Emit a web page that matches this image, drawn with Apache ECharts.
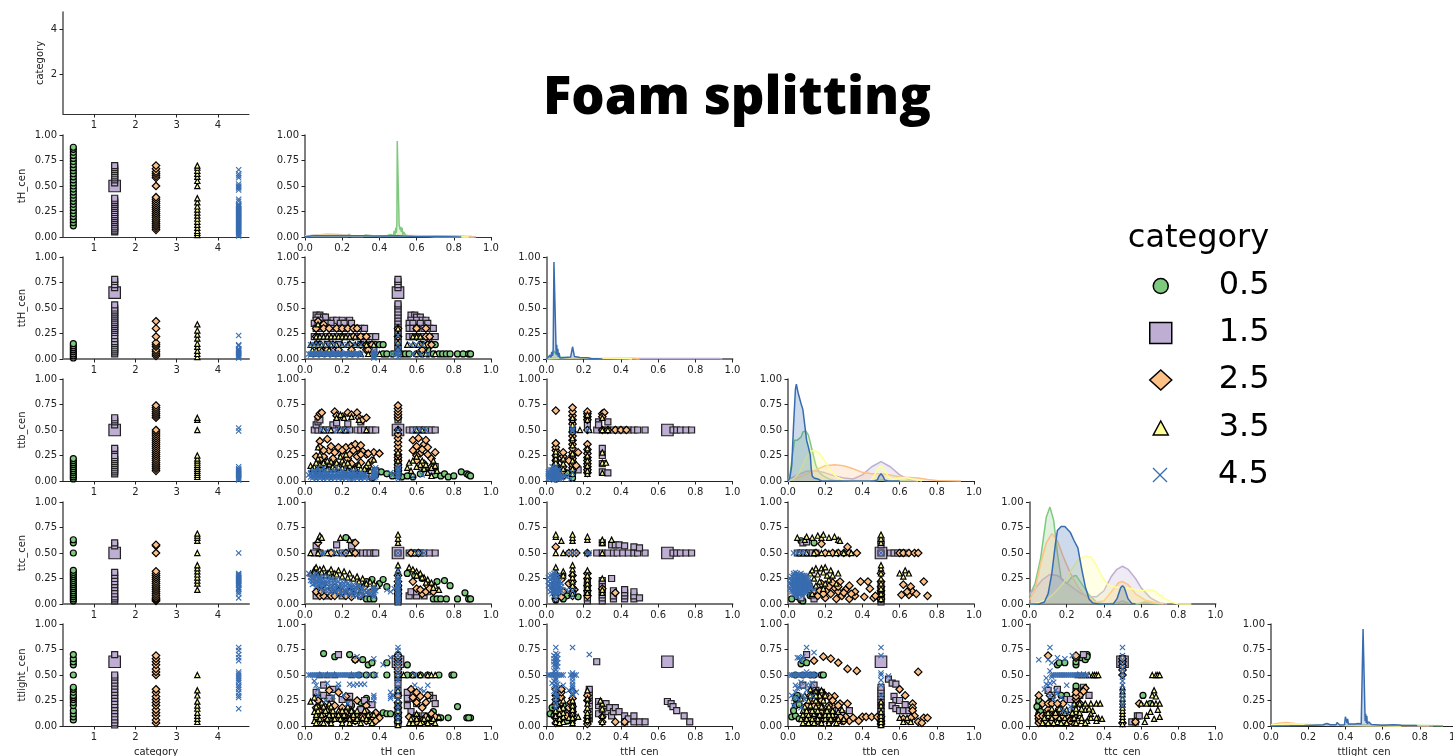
<!DOCTYPE html>
<html><head><meta charset="utf-8">
<style>html,body{margin:0;padding:0;background:#fff;overflow:hidden}#c{width:1453px;height:756px}</style>
<script src="https://cdn.jsdelivr.net/npm/echarts@6/dist/echarts.min.js"></script>
</head><body><div id="c"></div>
<script>
// value helpers: a row of points sharing y, or a column of points sharing x
const H=(y,xs)=>xs.map(x=>[x,y]);
const V=(x,ys)=>ys.map(y=>[x,y]);

const categories=['0.5','1.5','2.5','3.5','4.5'];
const variables=['tH_cen','ttH_cen','ttb_cen','ttc_cen','ttlight_cen'];
const categoryTicks=[1,2,3,4];

// ---- category column ----
const cat_tH=[
 [.11,.14,.17,.2,.23,.26,.29,.32,.35,.38,.41,.44,.47,.5,.53,.56,.59,.62,.65,.68,.71,.74,.77,.8,.83,.86,.88],
 [.05,.06,.08,.1,.12,.14,.16,.18,.2,.22,.24,.26,.28,.3,.32,.34,.36,.38,.53,.56,.58,.6,.62,.64,.66,.68,.7],
 [.07,.09,.11,.13,.15,.17,.19,.21,.23,.25,.27,.29,.31,.33,.35,.37,.39,.5,.58,.6,.62,.64,.67,.7],
 [.02,.04,.06,.09,.12,.15,.18,.21,.24,.27,.3,.34,.38,.5,.55,.59,.62,.65,.68,.7],
 [.01,.02,.03,.04,.05,.06,.07,.08,.09,.1,.11,.12,.13,.14,.15,.16,.17,.18,.19,.2,.21,.22,.23,.24,.25,.26,.27,.28,.29,.3,.31,.32,.35,.37,.46,.48,.49,.5,.52,.58,.6,.62,.66]];
const cat_ttH=[
 [.01,.03,.05,.07,.09,.11,.13,.15],
 [.05,.07,.09,.11,.13,.15,.17,.2,.23,.26,.28,.3,.32,.34,.36,.38,.4,.42,.44,.46,.48,.5,.53,.7,.73,.76,.78],
 [.03,.05,.07,.09,.12,.14,.16,.22,.3,.37],
 [.02,.05,.08,.12,.15,.2,.24,.28,.34],
 [.01,.02,.03,.04,.05,.06,.07,.08,.09,.1,.13,.14,.23]];
const cat_ttb=[
 [.02,.04,.06,.08,.1,.12,.14,.16,.18,.2,.22],
 [.07,.09,.11,.13,.15,.17,.19,.21,.23,.25,.3,.32,.55,.58,.6,.62],
 [.1,.12,.14,.16,.18,.2,.22,.24,.26,.28,.3,.32,.34,.36,.38,.4,.42,.44,.46,.48,.5,.62,.64,.66,.68,.7,.72,.74],
 [.04,.06,.08,.1,.12,.14,.16,.18,.2,.22,.25,.5,.6,.62],
 [.01,.02,.03,.04,.05,.06,.07,.08,.09,.1,.11,.12,.14,.49,.52]];
const cat_ttc=[
 [.03,.05,.07,.09,.11,.13,.15,.17,.19,.21,.23,.25,.27,.29,.31,.33,.5,.6,.63],
 [.03,.05,.07,.1,.13,.16,.19,.22,.25,.28,.31,.57,.6],
 [.03,.04,.05,.06,.08,.1,.12,.14,.16,.18,.2,.22,.24,.26,.28,.3,.32,.5,.57,.58],
 [.14,.2,.23,.26,.29,.32,.35,.38,.5,.62,.65,.67,.69],
 [.06,.1,.12,.14,.15,.16,.18,.19,.2,.21,.22,.23,.24,.25,.26,.27,.28,.29,.3,.5]];
const cat_ttlight=[
 [.06,.09,.12,.15,.2,.23,.26,.28,.3,.33,.36,.38,.5,.6,.63,.66,.7],
 [.01,.03,.06,.09,.12,.15,.18,.21,.24,.27,.3,.33,.36,.39,.42,.45,.48,.5,.7],
 [.03,.06,.1,.13,.16,.2,.23,.26,.29,.33,.36,.5,.53,.56,.6,.63,.66,.69],
 [.04,.07,.1,.13,.17,.2,.24,.3,.35,.5],
 [.17,.28,.3,.33,.36,.38,.4,.43,.45,.47,.49,.51,.53,.64,.67,.7,.74,.77]];
const catBigSquares=[.5,.65,.5,.5,.63];

// ---- ttH_cen against tH_cen ----
const ttH_tH_g=[...H(.05,[.42,.44,.47,.52,.54,.56,.6,.63,.66,.69,.72,.74,.76,.78,.82,.85,.88,.89]),...H(.14,[.35,.38,.4,.42,.63,.66,.68,.7]),[.66,.09],[.64,.1]];
const ttH_tH_p=[...V(.5,[.07,.1,.13,.16,.19,.22,.25,.28,.31,.34,.37,.4,.43,.46,.49,.52,.54,.7,.73,.76,.78]),...H(.43,[.06,.08,.57,.59]),...H(.41,[.07,.1,.11,.6,.62]),...H(.38,[.06,.08,.15,.17,.2,.24,.57,.6,.63,.65]),...H(.35,[.05,.07,.12,.14,.19,.21,.25,.56,.58,.62,.66]),...H(.3,[.06,.09,.14,.18,.22,.27,.3,.32,.56,.58,.6,.64,.67,.69]),...H(.22,[.05,.07,.09,.12,.15,.18,.21,.24,.27,.3,.33,.36,.38,.56,.58,.61,.64,.67,.7]),...H(.14,[.07,.12,.18,.3]),...H(.09,[.08,.15,.34,.37])];
const ttH_tH_o=[[.07,.37],[.1,.34],...H(.3,[.06,.1,.13,.17,.2,.23,.26,.28,.6,.65]),...H(.22,[.06,.13,.2,.26,.3,.33,.6,.65,.67]),...H(.14,[.08,.15,.24,.3,.33,.36,.62,.66,.68]),...H(.09,[.08,.12,.18,.25,.33,.34,.63]),...V(.5,[.22,.3])];
const ttH_tH_y=[[.07,.34],...H(.22,[.06,.08,.1,.12,.14,.16,.18,.2,.22,.24,.27,.58,.6,.62]),...H(.14,[.03,.05,.07,.09,.11,.14,.17,.2,.23,.27,.3,.33,.37,.55,.58,.61,.64]),...H(.05,[.04,.07,.1,.14,.18,.25,.3,.34,.4,.6,.65,.7]),...H(.09,[.04,.06,.09,.13]),...V(.5,[.1,.16,.24,.3])];
const ttH_tH_b=[...H(.05,[.02,.03,.04,.05,.06,.07,.08,.09,.1,.11,.12,.13,.14,.15,.16,.17,.18,.19,.2,.21,.22,.23,.24,.25,.26,.27,.28,.29,.3,.37,.38,.47,.49,.5,.58,.62,.66]),...H(.04,[.03,.06,.09,.12,.15,.18,.21,.24,.27,.3]),...H(.06,[.04,.07,.1,.13,.16,.19,.22,.25,.28]),...H(.14,[.03,.05,.07,.1,.13,.16,.2,.23,.27,.3,.57,.6,.63]),...V(.5,[.02,.05,.08,.1,.14,.23]),...V(.37,[.01,.02,.03,.04,.06,.08])];

// ---- ttb_cen against tH_cen ----
const ttb_tH_g=[[.36,.03],[.38,.06],[.41,.09],[.44,.07],[.47,.05],[.52,.04],[.55,.05],[.58,.04],[.62,.07],[.64,.12],[.68,.1],[.7,.06],[.73,.05],[.75,.07],[.77,.04],[.8,.05],[.84,.09],[.87,.07],[.88,.06],[.89,.05],[.3,.08],[.33,.12],[.26,.06]];
const ttb_tH_p=[...H(.5,[.05,.07,.09,.11,.13,.16,.2,.22,.24,.28,.3,.32,.34,.36,.38,.56,.58,.6,.62,.64,.66,.68,.7]),[.06,.55],[.07,.58],[.08,.6],[.15,.55],[.17,.57],[.23,.56],[.3,.58],...V(.5,[.07,.1,.14,.18,.22,.6,.63]),[.07,.12],[.1,.09],[.14,.16],[.18,.13],[.22,.1],[.26,.14],[.3,.07],[.34,.08],[.36,.05],[.38,.1],[.7,.14],[.68,.1]];
const ttb_tH_o=[[.07,.63],[.08,.66],[.09,.67],[.16,.68],[.17,.64],[.2,.63],[.23,.67],[.25,.65],[.28,.67],[.29,.62],[.31,.6],[.33,.62],...V(.5,[.1,.13,.16,.2,.23,.26,.3,.34,.38,.42,.46,.5,.62,.65,.68,.71,.74]),[.08,.39],[.12,.41],[.08,.33],[.13,.3],[.16,.28],[.18,.33],[.22,.33],[.25,.34],[.28,.32],[.28,.24],[.31,.29],[.33,.26],[.37,.28],[.4,.27],[.23,.22],[.2,.25],[.15,.22],[.1,.24],[.08,.21],[.06,.24],[.11,.18],[.17,.16],[.25,.17],[.3,.18],[.36,.2],[.34,.14],[.58,.4],[.61,.42],[.64,.36],[.66,.33],[.7,.28],[.58,.3],[.62,.27],[.66,.26],[.6,.2],[.64,.17],[.68,.14],[.1,.3],[.14,.34],[.2,.3],[.24,.26],[.26,.3],[.27,.36],[.3,.35],[.3,.26],[.34,.27],[.6,.34],[.63,.31],[.65,.4],[.6,.25],[.68,.22]];
const ttb_tH_y=[[.03,.15],[.05,.14],[.06,.18],[.07,.22],[.08,.26],[.07,.33],[.09,.13],[.11,.15],[.13,.17],[.15,.14],[.17,.18],[.2,.2],[.2,.13],[.22,.26],[.24,.15],[.27,.13],[.3,.12],[.33,.15],[.37,.21],[.35,.1],[.17,.62],[.19,.65],[.21,.62],[.25,.63],[.29,.6],...V(.5,[.05,.08,.12,.2,.28,.5]),[.55,.13],[.56,.18],[.58,.2],[.6,.24],[.62,.16],[.64,.12],[.66,.08],[.69,.2],[.71,.1],[.68,.05],[.58,.06],[.1,.5],[.14,.5],[.19,.5],[.22,.5],[.33,.5],[.6,.5],[.63,.5],[.04,.12],[.06,.1],[.08,.16],[.1,.18],[.12,.12],[.14,.19],[.16,.12],[.18,.14],[.21,.17],[.23,.11],[.26,.12],[.29,.16],[.32,.12],[.34,.18],[.08,.12],[.12,.2],[.19,.24],[.23,.18],[.57,.1],[.6,.14],[.63,.2],[.65,.16],[.68,.13],[.7,.15]];
const ttb_tH_b=[...H(.02,[.06,.1,.14,.2,.25,.3,.34]),...H(.03,[.04,.06,.08,.1,.12,.14,.16,.18,.2,.22,.24,.26,.28,.3,.32,.36]),...H(.04,[.03,.05,.07,.09,.11,.13,.15,.17,.19,.21,.23,.25,.27,.29,.31,.33,.37,.38,.58]),...H(.05,[.04,.06,.08,.1,.12,.14,.16,.18,.2,.22,.24,.26,.28,.3,.32,.37]),...H(.06,[.02,.04,.06,.08,.1,.12,.14,.16,.18,.2,.22,.24,.26,.28,.3,.32,.37,.38,.47,.63]),...H(.07,[.03,.05,.07,.09,.11,.13,.15,.17,.19,.21,.23,.25,.27,.29,.31,.38]),...H(.08,[.03,.05,.07,.09,.12,.15,.18,.22,.26,.3,.37,.46]),...H(.09,[.04,.06,.08,.1,.14,.16,.2,.24,.28]),...H(.1,[.05,.08,.11,.14,.2,.26,.38]),...H(.13,[.07,.1,.17,.38]),...V(.5,[.02,.04,.06,.08,.1,.12,.14]),...V(.37,[.03,.05,.07,.09,.11]),...H(.5,[.09,.12,.17,.2,.23,.5,.59,.62,.65])];

// ---- ttb_cen against ttH_cen ----
const ttb_ttH_g=[...V(.05,[.02,.05,.08,.12,.15,.2]),...V(.14,[.03,.07,.1]),[.09,.05],[.11,.08],[.22,.09]];
const ttb_ttH_p=[...H(.5,[.27,.3,.33,.36,.38,.41,.44,.47,.49,.53,.68,.7,.72,.75,.78]),[.28,.58],[.33,.58],[.28,.55],[.3,.09],[.33,.08],[.3,.17],[.3,.25],[.3,.32],[.14,.5],[.14,.1],[.14,.12],[.17,.11],[.22,.55],[.22,.61]];
const ttb_ttH_o=[[.05,.69],...V(.14,[.1,.13,.16,.19,.22,.25,.28,.32,.36,.4,.44,.48,.56,.6,.64,.68,.72]),...V(.22,[.08,.11,.14,.17,.2,.23,.27,.31,.36,.5,.6,.63,.66,.68]),[.3,.66],[.31,.67],[.3,.63],...V(.05,[.08,.12,.16,.2,.25,.3,.33,.37]),...V(.09,[.1,.14,.2,.24,.28]),[.17,.28],[.12,.2],[.16,.15],...H(.5,[.3,.33,.37,.4,.43])];
const ttb_ttH_y=[...V(.05,[.1,.14,.18,.22,.26,.29]),...V(.09,[.12,.17,.22]),...V(.14,[.07,.12,.2,.27,.35,.42,.5,.55,.6,.62]),...V(.22,[.07,.1,.15,.2,.25,.32,.6,.65]),...V(.3,[.08,.18,.28,.5,.62]),[.18,.5],[.23,.5],[.32,.18],[.33,.5]];
const ttb_ttH_b=[...V(.01,[.03,.05,.07,.09]),...V(.02,[.02,.03,.05,.07,.09,.11]),...V(.03,[.02,.04,.06,.08,.11,.14]),...V(.04,[.01,.03,.05,.07,.09,.11,.13]),...V(.05,[.02,.04,.06,.08,.1,.12,.14]),...V(.06,[.02,.04,.06,.08,.1]),...V(.07,[.02,.03,.05,.07,.11]),...V(.08,[.03,.04,.06]),[.1,.05],[.11,.04],[.13,.02],[.14,.08],...V(.14,[.49,.5,.52]),[.22,.5]];

// ---- ttc_cen against tH_cen ----
const ttc_tH_g=[[.33,.05],[.35,.05],[.37,.05],[.3,.17],[.33,.22],[.36,.24],[.4,.2],[.42,.24],[.44,.17],[.55,.3],[.59,.28],[.63,.25],[.66,.2],[.68,.15],[.69,.05],[.71,.05],[.73,.05],[.75,.23],[.76,.05],[.78,.18],[.82,.05],[.86,.11],[.88,.05],[.89,.05],[.71,.22],[.22,.65],[.26,.6]];
const ttc_tH_p=[...H(.5,[.05,.08,.14,.2,.24,.28,.31,.33,.35,.37,.38,.56,.58,.6,.62,.64,.67,.7]),[.06,.57],[.17,.58],[.25,.57],...H(.08,[.06,.12,.2,.3,.56,.6,.64]),...H(.12,[.07,.14,.25,.57,.6,.66]),...V(.5,[.02,.04,.06,.08,.12,.16,.5]),[.68,.14]];
const ttc_tH_o=[[.07,.6],[.27,.6],...H(.5,[.08,.14,.22,.27,.57,.61]),...V(.5,[.1,.14,.18,.22,.28]),[.06,.12],[.09,.18],[.13,.1],[.16,.16],[.2,.12],[.25,.07],[.28,.14],[.32,.17],[.38,.16],[.58,.22],[.6,.15],[.63,.1],[.66,.18],[.69,.12],[.35,.11],...H(.08,[.08,.1,.14,.16,.22,.3]),...H(.12,[.09,.12,.18,.24]),[.62,.14],[.65,.12],[.67,.15]];
const ttc_tH_y=[[.07,.63],[.08,.66],[.08,.67],[.09,.65],[.19,.65],[.24,.63],[.03,.3],[.05,.34],[.06,.36],[.08,.34],[.1,.35],[.12,.3],[.14,.34],[.16,.3],[.18,.33],[.21,.32],[.24,.3],[.28,.27],[.31,.25],[.35,.22],[.39,.18],...V(.5,[.1,.16,.22,.28,.33,.38,.6,.64,.68]),...H(.5,[.03,.07,.12,.17,.24,.59]),[.56,.36],[.58,.34],[.6,.32],[.62,.3],[.64,.26],[.66,.24],[.68,.21],[.7,.18],[.72,.14],[.05,.31],[.07,.29],[.09,.31],[.11,.28],[.13,.31],[.15,.27],[.17,.29],[.2,.27],[.23,.26],[.26,.25],[.29,.22],[.33,.2],[.37,.2],[.6,.28],[.63,.26],[.65,.21],[.69,.16]];
const ttc_tH_b=[...H(.5,[.09,.1,.16,.19,.22,.5,.6,.62,.64]),[.02,.3],[.03,.26],[.03,.23],[.04,.28],[.05,.24],[.05,.2],[.06,.27],[.07,.22],[.08,.25],[.08,.18],[.09,.22],[.1,.27],[.1,.15],[.11,.2],[.12,.24],[.13,.17],[.14,.22],[.15,.14],[.16,.2],[.17,.24],[.18,.15],[.19,.19],[.2,.22],[.21,.13],[.22,.18],[.23,.2],[.24,.14],[.25,.16],[.26,.19],[.27,.12],[.28,.15],[.29,.18],[.3,.12],[.31,.15],[.33,.12],[.35,.1],[.37,.11],[.37,.15],[.38,.13],[.44,.14],[.46,.12],[.48,.15],...V(.5,[.01,.03,.05,.07,.09,.11,.13,.15,.17,.19,.21,.23,.25,.28,.33]),...V(.04,[.19,.22,.25]),...V(.06,[.17,.2,.23,.26,.3]),...V(.08,[.15,.2,.22,.27]),...V(.1,[.13,.18,.21,.24]),...V(.12,[.12,.15,.19,.21,.27]),...V(.14,[.12,.16,.19,.25]),...V(.16,[.11,.14,.17,.23]),...V(.18,[.1,.13,.18,.22]),...V(.2,[.09,.12,.16,.19]),...V(.22,[.1,.13,.15,.21]),...V(.24,[.09,.11,.17,.19]),...V(.26,[.08,.11,.14,.17]),...V(.28,[.08,.11,.18]),...V(.3,[.07,.1,.15]),...V(.32,[.09,.13]),...V(.34,[.1,.13]),...V(.37,[.07,.09,.13,.17])];

// ---- ttc_cen against ttH_cen ----
const ttc_ttH_g=[...V(.05,[.04,.08,.12]),[.11,.08],[.14,.1],[.09,.05],[.17,.07]];
const ttc_ttH_p=[...H(.5,[.27,.3,.33,.36,.38,.41,.44,.47,.49,.53,.68,.7,.72,.75,.78]),...V(.22,[.03,.06,.1,.13,.18,.22]),...V(.3,[.03,.06,.09,.12,.16,.2,.23]),...V(.36,[.05,.08,.13]),...V(.42,[.05,.08,.11,.14]),...V(.47,[.05,.08,.12]),[.5,.06],[.35,.25],[.3,.6],[.35,.58],[.37,.58],[.39,.58],[.42,.57],[.47,.56],[.5,.55]];
const ttc_ttH_o=[[.05,.56],...V(.05,[.05,.09,.13,.17,.21,.25,.28]),[.08,.07],[.09,.12],[.08,.24],[.12,.2],[.15,.14],...V(.14,[.08,.12,.16,.22,.28,.5]),...V(.22,[.08,.13,.18,.25,.3,.5]),[.37,.11],[.3,.15],[.12,.5],[.16,.5]];
const ttc_ttH_y=[...V(.05,[.08,.12,.16,.2,.24,.28,.32,.36,.5,.66,.68]),[.09,.3],[.09,.32],[.09,.28],[.08,.62],...V(.14,[.1,.14,.18,.22,.26,.3,.34,.38,.62,.65,.68]),...V(.22,[.11,.16,.2,.24,.28,.33,.5,.63,.66]),...V(.3,[.11,.14,.25,.5,.6,.63]),[.35,.63],[.09,.5]];
const ttc_ttH_b=[...V(.01,[.18,.22,.26]),...V(.02,[.12,.16,.2,.24,.28]),...V(.03,[.1,.13,.16,.19,.22,.25,.29]),...V(.04,[.08,.11,.14,.17,.2,.23,.26,.3,.12,.18]),...V(.05,[.05,.09,.12,.15,.18,.21,.24,.27,.31,.1,.14,.2]),...V(.06,[.1,.13,.16,.19,.22,.25,.28,.11,.17]),...V(.07,[.12,.15,.18,.22,.14]),...V(.08,[.13,.17,.2]),[.11,.14],...H(.5,[.12,.14,.16,.22,.23]),...V(.14,[.08,.13])];

// ---- ttc_cen against ttb_cen ----
const ttc_ttb_g=[[.02,.05],[.05,.07],[.07,.04],[.08,.03],[.14,.6],[.07,.62],[.12,.08]];
const ttc_ttb_p=[...H(.5,[.05,.07,.09,.11,.13,.15,.5,.55,.57,.59,.61,.63]),[.08,.6],[.1,.61],...V(.5,[.02,.04,.06,.08,.1,.14,.18,.58,.62]),[.14,.05],[.07,.06],[.13,.09],[.12,.14]];
const ttc_ttb_o=[...H(.5,[.15,.2,.24,.27,.3,.33,.37,.6,.62,.65,.68,.7]),[.32,.56],[.18,.59],...V(.5,[.05,.09,.13,.17,.22,.3]),[.14,.13],[.16,.08],[.18,.2],[.2,.06],[.21,.13],[.23,.1],[.25,.16],[.26,.05],[.27,.12],[.28,.22],[.29,.08],[.31,.14],[.33,.05],[.33,.18],[.36,.08],[.36,.12],[.39,.22],[.41,.07],[.43,.22],[.44,.15],[.46,.06],[.47,.08],[.61,.09],[.62,.19],[.65,.09],[.66,.17],[.67,.12],[.69,.1],[.73,.22],[.75,.08],[.64,.12],[.17,.13],[.19,.1],[.22,.17],[.24,.21],[.27,.17],[.3,.11],[.34,.1]];
const ttc_ttb_y=[[.05,.65],[.09,.63],[.1,.66],[.13,.65],[.16,.67],[.18,.65],[.19,.68],[.22,.65],[.25,.66],[.27,.63],[.28,.62],...H(.5,[.06,.1,.14,.18,.22,.26,.3,.34]),...V(.5,[.05,.1,.15,.2,.25,.3,.35,.38,.6,.64,.68]),[.12,.3],[.15,.35],[.18,.35],[.2,.36],[.23,.33],[.27,.3],[.14,.25],[.17,.22],[.19,.15],[.22,.24],[.26,.2],[.6,.3],[.63,.33],[.65,.3],[.62,.27],[.13,.1],[.13,.33],[.16,.29],[.19,.31],[.21,.28],[.24,.28],[.15,.18],[.2,.2],[.12,.2]];
const ttc_ttb_b=[...V(.01,[.15,.2,.25]),...V(.02,[.12,.17,.22,.27,.14,.19,.24]),...V(.03,[.1,.14,.18,.22,.26,.3,.12,.16,.2,.24,.28]),...V(.04,[.08,.12,.16,.2,.24,.28,.31,.1,.14,.18,.22,.26]),...V(.05,[.07,.11,.15,.19,.23,.27,.3,.13,.17,.21,.25]),...V(.06,[.09,.13,.17,.21,.25,.29,.11,.15,.19,.23,.27]),...V(.07,[.1,.14,.18,.22,.26,.3,.12,.16,.2,.24,.28]),...V(.08,[.08,.12,.16,.2,.24,.28,.14,.18,.22,.26]),...V(.09,[.1,.14,.18,.22,.26,.12,.16,.2,.24,.28]),...V(.1,[.12,.16,.2,.24,.28,.14,.18,.22,.26]),...V(.11,[.14,.18,.22,.16,.2,.24]),...V(.12,[.15,.2,.18]),[.14,.14],...H(.5,[.03,.05,.07,.09,.5])];

// ---- ttlight_cen against tH_cen ----
const lt_tH_g=[[.1,.71],[.16,.68],[.24,.7],[.27,.65],[.31,.65],[.34,.6],[.36,.62],[.44,.62],[.5,.7],[.55,.6],...H(.5,[.29,.33,.37,.44,.55,.58,.62,.66,.72,.79,.8]),[.82,.19],[.87,.08],[.89,.08],[.88,.08],[.77,.08],[.73,.08],[.71,.08],[.69,.14],[.68,.1],[.42,.13],[.44,.12],[.46,.12],[.3,.23],[.33,.27],[.25,.2],[.2,.16]];
const lt_tH_p=[[.18,.7],...H(.27,[.07,.14,.55,.69]),[.1,.4],[.15,.36],[.24,.29],[.32,.25],[.36,.21],[.55,.33],[.58,.27],[.6,.22],[.64,.1],[.67,.3],[.7,.22],[.55,.2],[.57,.14],[.6,.1],[.06,.33],[.1,.3],[.13,.27],[.2,.26],[.24,.22],[.3,.16],[.35,.1],[.38,.08],...V(.5,[.02,.05,.08,.11,.14,.2,.3,.35,.42,.48,.5])];
const lt_tH_o=[[.27,.65],[.13,.35],[.18,.33],[.22,.29],[.28,.25],[.33,.2],[.38,.13],[.4,.08],[.57,.36],[.6,.33],[.62,.29],[.6,.23],[.65,.23],[.58,.28],[.66,.3],[.63,.18],[.68,.12],[.7,.08],...V(.5,[.04,.08,.13,.18,.23,.3,.53,.56,.6,.63,.66,.69]),[.07,.1],[.12,.07],[.18,.1],[.24,.06],[.3,.09],[.35,.05],[.6,.04],[.65,.06],[.07,.25],[.1,.2],[.16,.2],[.22,.13],...H(.05,[.07,.13,.2,.27,.33,.38,.58,.63,.68]),...H(.09,[.1,.16,.22,.26,.31,.36,.56,.6,.65,.7]),...H(.14,[.08,.14,.19,.25,.33]),...H(.18,[.06,.13,.2])];
const lt_tH_y=[...H(.5,[.08,.12,.16,.25,.53,.58,.62,.66,.68,.7]),[.05,.05],[.06,.09],[.05,.14],[.07,.2],[.05,.28],[.09,.07],[.1,.12],[.12,.16],[.14,.06],[.15,.11],[.18,.15],[.2,.06],[.22,.1],[.25,.15],[.27,.05],[.28,.11],[.31,.08],[.35,.05],[.37,.11],[.56,.03],[.58,.08],[.6,.12],[.63,.04],[.66,.08],[.68,.05],[.72,.09],...V(.5,[.01,.05,.1,.15,.2,.25,.35,.5]),[.09,.23],[.13,.22],[.03,.24],[.17,.07],[.07,.03],...H(.03,[.06,.1,.14,.2,.24,.3,.36,.58,.62,.66,.7]),...H(.07,[.08,.12,.16,.19,.24,.28,.33,.57,.6,.64,.69]),...H(.11,[.06,.09,.13,.18,.21,.26,.34]),...H(.15,[.07,.11,.15,.2,.28,.32]),...H(.19,[.06,.1,.14,.23])];
const lt_tH_b=[...H(.5,[.02,.03,.04,.05,.06,.07,.08,.09,.1,.11,.12,.13,.14,.15,.16,.17,.18,.19,.2,.21,.22,.23,.24,.25,.26,.27,.28,.29,.3,.34,.38,.59]),[.05,.44],[.06,.4],[.07,.36],[.12,.42],[.18,.38],[.18,.41],[.24,.41],[.26,.4],[.28,.41],[.3,.41],[.32,.41],[.37,.3],[.37,.28],[.37,.25],[.46,.33],[.46,.29],[.46,.27],[.47,.3],[.37,.66],[.42,.6],[.28,.68],[.46,.67],[.59,.4],[.66,.4],[.62,.36],[.64,.34],...V(.5,[.06,.1,.16,.2,.26,.32,.38,.44,.48,.52,.56,.6,.64,.69,.74,.77]),[.07,.3],[.11,.25],[.15,.29],[.21,.3],[.23,.22]];

// ---- ttlight_cen against ttH_cen ----
const lt_ttH_g=[[.02,.12],[.04,.1],[.05,.08],[.06,.06],[.08,.15],[.09,.2],[.03,.18],[.14,.2],[.14,.12],[.11,.05]];
const lt_ttH_p=[[.23,.07],...V(.23,[.1,.14,.2,.25,.3,.33,.36]),[.27,.63],...V(.28,[.12,.2,.24]),[.3,.16],[.31,.2],[.32,.22],[.33,.14],[.34,.18],[.35,.1],[.36,.14],[.37,.18],[.39,.14],[.42,.1],[.42,.04],[.44,.07],[.47,.04],[.47,.1],[.5,.04],[.53,.04],[.65,.24],[.67,.22],[.68,.19],[.7,.15],[.74,.1],[.77,.04],[.14,.15],[.12,.13]];
const lt_ttH_o=[...V(.05,[.03,.08,.13,.18,.22,.26,.3,.36]),...V(.08,[.1,.15,.23,.28,.33,.36]),[.11,.1],[.12,.18],[.13,.23],...V(.14,[.06,.11,.14,.19,.27,.34]),...V(.22,[.02,.05,.08,.14,.25,.3]),[.3,.09],[.37,.04],[.3,.04],[.42,.04]];
const lt_ttH_y=[...V(.05,[.04,.1,.15,.2,.27,.32]),...V(.09,[.04,.09,.13,.18,.25]),[.12,.08],[.14,.05],[.14,.12],[.17,.09],...V(.22,[.06,.1,.13,.18,.22,.27,.35]),...V(.3,[.04,.1,.17,.22]),[.29,.25],...V(.14,[.03,.08,.16,.2,.25]),...V(.07,[.03,.07,.12,.17])];
const lt_ttH_b=[...H(.5,[.01,.02,.03,.04,.05,.06,.07,.08,.09,.13,.14,.15,.16]),...V(.05,[.18,.21,.24,.27,.3,.33,.36,.39,.42,.45,.47,.52,.55,.58,.6,.62,.64,.66,.68,.71,.77]),...V(.04,[.34,.4,.44,.54,.6,.63,.66,.69]),...V(.06,[.3,.37,.41,.58,.62,.66,.7]),[.03,.42],[.09,.4],[.12,.35],[.14,.32],...V(.14,[.31,.35,.37,.39,.41,.44,.47,.52,.77]),[.23,.7],[.16,.33]];

// ---- ttlight_cen against ttb_cen ----
const lt_ttb_g=[[.02,.09],[.04,.1],[.06,.07],[.07,.61],[.08,.64],[.1,.62],[.04,.2],[.03,.15],[.05,.3],[.04,.27],[.09,.11],[.1,.18],[.14,.14],[.06,.21],...H(.5,[.04,.08,.12,.14,.18,.19])];
const lt_ttb_p=[...V(.5,[.02,.05,.08,.11,.14,.17,.2,.23,.26,.29,.32,.35,.38]),[.54,.46],[.56,.42],[.58,.41],[.57,.29],[.58,.25],[.6,.25],[.56,.2],[.58,.17],[.6,.15],[.62,.15],[.63,.21],[.65,.15],[.08,.4],[.1,.7],[.14,.4],[.15,.35],[.18,.33],[.27,.15],[.33,.15],[.29,.12],[.22,.12]];
const lt_ttb_o=[[.14,.64],[.19,.68],[.23,.66],[.27,.62],[.32,.56],[.37,.54],[.7,.53],[.6,.36],[.63,.3],[.67,.22],[.67,.18],[.67,.15],[.68,.1],[.62,.07],[.65,.05],[.7,.04],[.73,.08],[.75,.08],[.72,.03],[.66,.08],[.4,.09],[.42,.09],[.45,.09],[.48,.09],...V(.5,[.02,.05,.09]),[.38,.05],[.33,.05],[.35,.08],[.31,.09],[.29,.05],[.27,.08],[.25,.1],[.32,.22],[.28,.22],[.24,.2],[.25,.29],[.22,.29],[.17,.25],[.2,.3],[.12,.3],[.14,.2],[.19,.12],[.21,.07],[.16,.05],[.1,.07],...H(.05,[.1,.14,.18,.23,.27,.3]),...H(.09,[.09,.13,.17,.22,.28]),...H(.13,[.12,.18,.24]),...H(.2,[.1,.17,.22,.27]),...H(.25,[.13,.18,.24]),...H(.33,[.15,.18])];
const lt_ttb_y=[[.09,.05],[.12,.08],[.14,.12],[.16,.07],[.18,.1],[.19,.18],[.12,.2],[.14,.27],[.16,.23],[.17,.3],[.18,.35],[.2,.14],[.22,.05],[.24,.11],[.27,.14],[.12,.36],[.15,.34],[.16,.14],[.3,.07],[.29,.16],[.62,.04],[.64,.08],[.6,.08],[.66,.04],...V(.5,[.01,.04,.07,.1,.14,.2,.24]),[.08,.15],[.1,.12],[.07,.27],[.09,.3],[.13,.04],...H(.03,[.08,.11,.14,.18,.22,.26]),...H(.07,[.07,.1,.13,.2,.23,.27]),...H(.11,[.08,.11,.17,.2,.22]),...H(.15,[.1,.13,.16,.21,.24]),...H(.19,[.09,.15,.18,.22]),...H(.25,[.11,.15,.19]),...H(.3,[.12,.15,.2])];
const lt_ttb_b=[...H(.5,[.01,.02,.03,.04,.05,.06,.07,.08,.09,.1,.11,.12,.13,.14,.15,.5]),...V(.5,[.3,.4,.45,.52,.69,.77]),[.02,.3],[.03,.27],[.04,.33],[.05,.28],[.06,.38],[.07,.43],[.04,.4],[.03,.2],[.06,.25],[.08,.3],[.07,.18],[.1,.35],[.1,.4],[.12,.4],[.13,.42],[.14,.72],[.1,.77],[.06,.67],[.07,.64],[.05,.67],[.08,.68],[.1,.53],[.54,.49],[.13,.29],[.05,.37],[.09,.26]];

// ---- ttlight_cen against ttc_cen ----
const lt_ttc_g=[...V(.05,[.05,.09,.12,.17,.22,.25]),[.04,.19],[.06,.14],[.15,.6],[.16,.62],[.19,.62],[.25,.6],[.25,.63],[.28,.67],[.3,.65],[.31,.7],[.31,.68],[.25,.36],[.25,.39],[.2,.3],[.17,.3],[.61,.3],[.65,.22],[.11,.12]];
const lt_ttc_p=[[.29,.7],[.15,.36],[.2,.26],[.22,.26],[.27,.3],[.29,.38],[.32,.3],[.12,.3],[.1,.35],...V(.5,[.6,.63,.66]),[.55,.04],[.58,.1],[.59,.1],[.57,.04],[.24,.15]];
const lt_ttc_o=[[.05,.3],[.1,.69],[.25,.67],[.25,.69],[.3,.37],...V(.05,[.03,.07,.1]),[.07,.06],[.07,.22],[.08,.1],[.09,.03],[.1,.07],[.1,.16],[.11,.23],[.12,.09],[.13,.03],[.14,.12],[.15,.04],[.17,.08],[.18,.22],[.2,.06],[.2,.1],[.23,.04],[.25,.1],[.27,.06],[.27,.22],[.29,.34],[.16,.17],...V(.5,[.03,.5,.55,.59,.63,.66]),[.57,.04],[.59,.22],...H(.05,[.06,.08,.09,.12,.15,.18,.22,.26]),...H(.1,[.05,.07,.09,.11,.14,.18,.24]),...H(.22,[.1,.12,.15,.25,.27]),...H(.3,[.11,.25,.27]),...V(.25,[.26,.29,.33])];
const lt_ttc_y=[...H(.5,[.26,.28,.3,.32,.34,.35,.36,.37,.66,.68,.69,.7]),...H(.22,[.24,.27,.3,.33,.36,.38,.6,.63,.66,.68,.7]),[.1,.1],[.15,.04],[.18,.13],[.2,.16],[.23,.07],[.25,.14],[.27,.1],[.28,.05],[.3,.16],[.32,.08],[.34,.15],[.36,.05],[.37,.08],[.39,.07],[.31,.05],[.33,.12],[.63,.1],[.65,.14],[.67,.07],[.62,.04],[.66,.3],[.67,.35],[.68,.29],[.69,.16],[.7,.09],...V(.5,[.02,.06,.09,.12,.15,.18,.21,.24,.27,.31,.34,.38]),...H(.03,[.07,.1,.13,.17,.2,.25,.3]),...H(.08,[.08,.12,.16,.19,.24,.28,.33,.36]),...H(.13,[.1,.14,.19,.23,.27]),...H(.17,[.12,.16,.25,.28,.32])];
const lt_ttc_b=[...H(.5,[.12,.13,.14,.15,.16,.17,.18,.19,.2,.21,.22,.23,.24,.25,.26,.27,.28,.29,.3,.31]),...V(.5,[.2,.24,.28,.32,.36,.4,.44,.48,.52,.56,.6,.65,.69,.77]),[.05,.65],[.11,.77],[.1,.65],[.15,.67],[.19,.66],[.23,.69],[.12,.62],[.09,.47],[.11,.54],[.12,.48],[.1,.4],[.11,.42],[.13,.43],[.09,.41],[.2,.4],[.14,.35],[.15,.32],[.11,.3],[.17,.28],[.08,.36],[.18,.15],[.2,.14],[.22,.19],[.13,.26]];

const bigSquares_ttH_tH=[[.5,.65]];
const bigSquares_ttb_tH=[[.5,.5]];
const bigSquares_ttb_ttH=[[.65,.5]];
const bigSquares_ttc_tH=[[.5,.5]];
const bigSquares_ttc_ttH=[[.65,.5]];
const bigSquares_ttc_ttb=[[.5,.5]];
const bigSquares_lt_tH=[[.5,.63]];
const bigSquares_lt_ttH=[[.65,.63]];
const bigSquares_lt_ttb=[[.5,.63]];
const bigSquares_lt_ttc=[[.5,.63]];

// ---- density curves on the diagonal ----
const kde_tH_g=[[0,.004],[.1,.004],[.23,.005],[.235,.03],[.245,.03],[.25,.005],[.31,.005],[.315,.02],[.325,.02],[.33,.005],[.4,.006],[.44,.012],[.46,.025],[.465,.01],[.47,.04],[.475,.015],[.48,.06],[.484,.02],[.488,.09],[.491,.04],[.494,.13],[.496,.94],[.504,.95],[.506,.12],[.509,.12],[.512,.07],[.515,.1],[.518,.05],[.522,.09],[.526,.02],[.53,.05],[.54,.02],[.56,.008],[.67,.008],[.675,.02],[.7,.012],[.75,.012],[.76,.008],[.88,.006],[.885,.02],[.895,.005],[.9,0]];
const kde_tH_p=[[0,.01],[.06,.02],[.12,.028],[.18,.024],[.25,.015],[.35,.01],[.5,.01],[.6,.012],[.7,.006],[.8,.004],[.92,0]];
const kde_tH_o=[[0,.003],[.05,.012],[.12,.016],[.25,.012],[.4,.01],[.5,.014],[.58,.014],[.7,.006],[.8,.004],[.91,0]];
const kde_tH_y=[[0,.008],[.08,.016],[.2,.014],[.35,.01],[.5,.01],[.62,.008],[.75,.005],[.88,0]];
const kde_tH_b=[[0,.002],[.04,.012],[.15,.013],[.3,.012],[.38,.011],[.5,.012],[.6,.006],[.7,.004],[.84,0]];

const kde_ttH_g=[[0,0],[.02,.02],[.035,.05],[.04,.08],[.05,.05],[.07,.02],[.13,.01],[.14,.02],[.15,.01],[.22,.01],[.3,0]];
const kde_ttH_p=[[0,.003],[.1,.008],[.3,.008],[.5,.006],[.7,.005],[.93,.004],[.945,0]];
const kde_ttH_o=[[0,.004],[.1,.012],[.25,.01],[.4,.006],[.47,.005],[.5,0]];
const kde_ttH_y=[[0,.004],[.1,.01],[.22,.015],[.35,.01],[.44,.006],[.46,0]];
const kde_ttH_b=[[0,0],[.01,.01],[.02,.04],[.024,.015],[.028,.07],[.032,.03],[.036,.1],[.04,.95],[.049,.95],[.052,.05],[.055,.14],[.058,.04],[.061,.1],[.064,.02],[.068,.06],[.072,.01],[.08,.02],[.13,.02],[.137,.02],[.14,.12],[.146,.12],[.15,.025],[.18,.015],[.22,.012],[.23,.02],[.24,.005],[.3,0]];

const kde_ttb_g=[[0,0],[.01,.05],[.02,.2],[.035,.4],[.05,.4],[.06,.4],[.07,.43],[.08,.48],[.095,.49],[.11,.45],[.13,.3],[.15,.15],[.17,.08],[.19,.05],[.22,.02],[.25,.005],[.3,0],[.46,0],[.5,.01],[.54,0],[.7,0]];
const kde_ttb_p=[[0,.01],[.05,.06],[.1,.095],[.15,.1],[.2,.08],[.25,.05],[.3,.03],[.35,.02],[.4,.06],[.45,.14],[.5,.19],[.55,.14],[.6,.06],[.65,.015],[.7,0]];
const kde_ttb_o=[[0,0],[.05,.03],[.1,.07],[.15,.11],[.2,.15],[.25,.16],[.3,.15],[.35,.12],[.4,.085],[.45,.07],[.5,.07],[.55,.06],[.6,.04],[.65,.035],[.7,.03],[.75,.015],[.8,.005],[.93,0]];
const kde_ttb_y=[[0,0],[.03,.02],[.06,.08],[.09,.2],[.12,.29],[.14,.3],[.17,.27],[.2,.19],[.23,.1],[.26,.04],[.3,.01],[.35,0],[.44,0],[.46,.04],[.48,.11],[.5,.15],[.52,.11],[.54,.04],[.56,.015],[.6,.03],[.63,.035],[.67,.02],[.72,0]];
const kde_ttb_b=[[0,0],[.01,.03],[.02,.15],[.03,.55],[.04,.9],[.045,.95],[.055,.86],[.07,.76],[.08,.7],[.09,.55],[.1,.4],[.11,.33],[.12,.25],[.125,.12],[.13,.05],[.14,.03],[.15,.04],[.16,.02],[.18,0],[.46,0],[.48,.01],[.49,.05],[.5,.07],[.51,.05],[.52,.01],[.54,0],[.6,0]];

const kde_ttc_g=[[0,.08],[.03,.2],[.06,.45],[.09,.85],[.11,.95],[.13,.82],[.15,.5],[.17,.25],[.2,.2],[.23,.27],[.25,.28],[.28,.2],[.32,.09],[.36,.02],[.4,0],[.47,.01],[.5,.03],[.53,.01],[.58,0],[.62,.02],[.67,.005],[.7,0]];
const kde_ttc_p=[[0,.1],[.03,.15],[.07,.24],[.11,.29],[.15,.28],[.19,.22],[.24,.15],[.28,.1],[.32,.07],[.36,.07],[.4,.13],[.44,.27],[.47,.34],[.5,.37],[.53,.34],[.57,.25],[.6,.16],[.65,.06],[.7,.01],[.74,0]];
const kde_ttc_o=[[0,.04],[.03,.14],[.06,.4],[.09,.6],[.12,.69],[.15,.62],[.18,.47],[.22,.3],[.26,.17],[.3,.08],[.35,.02],[.4,.03],[.44,.12],[.48,.21],[.5,.22],[.53,.19],[.57,.1],[.62,.04],[.68,.01],[.72,0]];
const kde_ttc_y=[[0,0],[.05,.01],[.1,.05],[.14,.12],[.18,.2],[.22,.32],[.26,.43],[.3,.47],[.33,.46],[.36,.38],[.39,.27],[.42,.19],[.45,.17],[.5,.16],[.55,.15],[.6,.13],[.65,.14],[.68,.12],[.72,.06],[.76,.02],[.8,0],[.87,0]];
const kde_ttc_b=[[0,0],[.05,0],[.08,.02],[.1,.1],[.12,.3],[.14,.6],[.15,.72],[.17,.76],[.19,.76],[.2,.77],[.22,.7],[.24,.62],[.26,.55],[.28,.35],[.3,.17],[.32,.05],[.34,.01],[.37,0],[.45,0],[.47,.05],[.49,.16],[.5,.18],[.51,.16],[.53,.05],[.55,.005],[.57,0]];

const kde_lt_g=[[0,.006],[.1,.012],[.3,.008],[.5,.008],[.7,.005],[.8,.004],[.92,.003],[.925,0]];
const kde_lt_p=[[0,.01],[.08,.014],[.25,.008],[.5,.006],[.7,.004],[.86,.003],[.87,0]];
const kde_lt_o=[[0,.012],[.04,.028],[.08,.035],[.13,.025],[.2,.012],[.35,.008],[.6,.005],[.84,.003],[.85,0]];
const kde_lt_y=[[0,.01],[.08,.02],[.2,.02],[.3,.012],[.42,.005],[.6,.003],[.7,0]];
const kde_lt_b=[[0,0],[.1,.002],[.18,.005],[.25,.01],[.28,.012],[.3,.025],[.32,.012],[.35,.012],[.355,.035],[.362,.035],[.37,.01],[.395,.012],[.4,.09],[.406,.09],[.409,.03],[.412,.07],[.416,.02],[.425,.012],[.45,.02],[.47,.025],[.485,.02],[.492,.03],[.495,.95],[.504,.95],[.506,.05],[.509,.12],[.512,.03],[.515,.1],[.518,.02],[.525,.04],[.54,.015],[.6,.008],[.66,.012],[.7,.008],[.78,.006],[.785,0]];

// ---- appearance ----
const colors=['#7fc97f','#beaed4','#fdc086','#ffff99','#386cb0'];
const xPathThin='path://M.6 0L5 4.4L9.4 0L10 .6L5.6 5L10 9.4L9.4 10L5 5.6L.6 10L0 9.4L4.4 5L0 .6Z';
const xPath='path://M1.3 0L5 3.7L8.7 0L10 1.3L6.3 5L10 8.7L8.7 10L5 6.3L1.3 10L0 8.7L3.7 5L0 1.3Z';
const symbols=['circle','rect','diamond','triangle',xPath];
const legendIcons=['circle','rect','diamond','triangle',xPathThin];
const sizes=[6,6,7.5,5.2,6];
const ink='#222';
const colLeft=[63,305,546.5,788,1029.5,1271];
const rowTop=[12,135,257,379,502,624];
const W=186,Hh=102;
// the reference's horizontal spines land between pixels on some rows
const rowLine=[['#333',1],['#333',1],['#777',2],['#222',1],['#777',2],['#222',1]];

const grid=[],xAxis=[],yAxis=[],series=[];
function panel(r,c){
  const i=grid.length;
  grid.push({left:colLeft[c],top:rowTop[r],width:W,height:Hh,containLabel:false,outerBoundsMode:'none'});
  const isCatX=c===0;
  const isTop=r===0;
  const bottomName=r===5?(c===0?'category':variables[c-1]):'';
  const leftName=c===0?(r===0?'category':variables[r-1]):'';
  const [lc,lw]=rowLine[r];
  xAxis.push({gridIndex:i,type:'value',min:isCatX?0.25:0,max:isCatX?4.75:1,
    interval:isCatX?undefined:0.2,
    name:bottomName,nameLocation:'middle',nameGap:21,nameTextStyle:{color:ink,fontSize:10,fontFamily:'DejaVu Sans'},
    axisLine:{show:true,onZero:false,lineStyle:{color:lc,width:lw}},
    axisTick:{show:true,length:3.5,inside:false,lineStyle:{color:ink,width:1},...(isCatX?{customValues:categoryTicks}:{})},
    axisLabel:{show:true,color:ink,fontSize:10,fontFamily:'DejaVu Sans',margin:6,hideOverlap:false,showMinLabel:true,showMaxLabel:true,
      ...(isCatX?{customValues:categoryTicks,formatter:v=>String(v)}:{formatter:v=>v.toFixed(1)})},
    splitLine:{show:false}});
  yAxis.push({gridIndex:i,type:'value',min:isTop?0.2:0,max:isTop?4.8:1,
    interval:isTop?undefined:0.25,
    name:leftName,nameLocation:'middle',nameGap:isTop?18:36,nameRotate:90,nameTextStyle:{color:ink,fontSize:10,fontFamily:'DejaVu Sans'},
    axisLine:{show:true,onZero:false,lineStyle:{color:'#555',width:1.5}},
    axisTick:{show:true,length:3.5,inside:false,lineStyle:{color:ink,width:1},...(isTop?{customValues:[2,4]}:{})},
    axisLabel:{show:true,color:ink,fontSize:10,fontFamily:'DejaVu Sans',margin:6,hideOverlap:false,showMinLabel:true,showMaxLabel:true,
      ...(isTop?{customValues:[2,4],formatter:v=>String(v)}:{formatter:v=>v.toFixed(2)})},
    splitLine:{show:false}});
  return i;
}
function scatter(i,k,data,size){
  series.push({type:'scatter',name:categories[k],xAxisIndex:i,yAxisIndex:i,data,symbol:symbols[k],symbolSize:size||sizes[k],
    clip:false,silent:true,z:2+k*0.01,
    itemStyle:{color:colors[k],borderColor:k===4?colors[k]:(k===1?'#222':'#000'),borderWidth:k===4?0:1.2,opacity:1},
    animation:false});
}
function scatters(i,sets,big){
  sets.forEach((d,k)=>{ if(k===1&&big) scatter(i,1,big,11.5); scatter(i,k,d); });
}
function kdes(i,sets){
  sets.forEach((d,k)=>series.push({type:'line',name:categories[k],xAxisIndex:i,yAxisIndex:i,data:d,showSymbol:false,symbol:'none',smooth:false,clip:false,silent:true,
    lineStyle:{color:colors[k],width:1.5},itemStyle:{color:colors[k]},areaStyle:{color:colors[k],opacity:.25},animation:false,z:2+k*0.01}));
}

// top-left empty panel
panel(0,0);
const catSets=[cat_tH,cat_ttH,cat_ttb,cat_ttc,cat_ttlight];
catSets.forEach((set,r)=>{
  const i=panel(r+1,0);
  scatters(i,set.map((ys,k)=>V(k+.5,ys)),[[1.5,catBigSquares[r]]]);
});
kdes(panel(1,1),[kde_tH_g,kde_tH_p,kde_tH_o,kde_tH_y,kde_tH_b]);
scatters(panel(2,1),[ttH_tH_g,ttH_tH_p,ttH_tH_o,ttH_tH_y,ttH_tH_b],bigSquares_ttH_tH);
kdes(panel(2,2),[kde_ttH_g,kde_ttH_p,kde_ttH_o,kde_ttH_y,kde_ttH_b]);
scatters(panel(3,1),[ttb_tH_g,ttb_tH_p,ttb_tH_o,ttb_tH_y,ttb_tH_b],bigSquares_ttb_tH);
scatters(panel(3,2),[ttb_ttH_g,ttb_ttH_p,ttb_ttH_o,ttb_ttH_y,ttb_ttH_b],bigSquares_ttb_ttH);
kdes(panel(3,3),[kde_ttb_g,kde_ttb_p,kde_ttb_o,kde_ttb_y,kde_ttb_b]);
scatters(panel(4,1),[ttc_tH_g,ttc_tH_p,ttc_tH_o,ttc_tH_y,ttc_tH_b],bigSquares_ttc_tH);
scatters(panel(4,2),[ttc_ttH_g,ttc_ttH_p,ttc_ttH_o,ttc_ttH_y,ttc_ttH_b],bigSquares_ttc_ttH);
scatters(panel(4,3),[ttc_ttb_g,ttc_ttb_p,ttc_ttb_o,ttc_ttb_y,ttc_ttb_b],bigSquares_ttc_ttb);
kdes(panel(4,4),[kde_ttc_g,kde_ttc_p,kde_ttc_o,kde_ttc_y,kde_ttc_b]);
scatters(panel(5,1),[lt_tH_g,lt_tH_p,lt_tH_o,lt_tH_y,lt_tH_b],bigSquares_lt_tH);
scatters(panel(5,2),[lt_ttH_g,lt_ttH_p,lt_ttH_o,lt_ttH_y,lt_ttH_b],bigSquares_lt_ttH);
scatters(panel(5,3),[lt_ttb_g,lt_ttb_p,lt_ttb_o,lt_ttb_y,lt_ttb_b],bigSquares_lt_ttb);
scatters(panel(5,4),[lt_ttc_g,lt_ttc_p,lt_ttc_o,lt_ttc_y,lt_ttc_b],bigSquares_lt_ttc);
kdes(panel(5,5),[kde_lt_g,kde_lt_p,kde_lt_o,kde_lt_y,kde_lt_b]);

const legendCentre=[284,331,378,426,473];
const legendW=[15,22,22,15,15];
const legendH=[15,21,20,14,15];
const legend=categories.map((name,k)=>({
  orient:'vertical',left:1160-legendW[k]/2,top:legendCentre[k]-20,padding:0,itemGap:0,
  itemWidth:legendW[k],itemHeight:legendH[k],selectedMode:false,
  data:[{name,icon:legendIcons[k],itemStyle:{color:colors[k],borderColor:k===4?colors[k]:'#000',borderWidth:k===4?0:1.5,opacity:1}}],
  textStyle:{color:'#000',fontFamily:'DejaVu Sans',fontSize:32,lineHeight:40,padding:[4,0,0,1218-(1160+legendW[k]/2)-5]}
}));

const chart=echarts.init(document.getElementById('c'),null,{renderer:'canvas'});
chart.setOption({
  animation:false,backgroundColor:'#fff',
  title:[
    {text:'Foam splitting',left:737,top:99,textAlign:'center',textVerticalAlign:'middle',padding:0,
     textStyle:{fontFamily:'Open Sans',fontWeight:800,fontSize:52.5,color:'#000'}},
    {text:'category',left:1198.5,top:239,textAlign:'center',textVerticalAlign:'middle',padding:0,
     textStyle:{fontFamily:'DejaVu Sans',fontWeight:'normal',fontSize:32,color:'#000'}}
  ],
  tooltip:{show:false},legend,grid,xAxis,yAxis,series
});
</script></body></html>
